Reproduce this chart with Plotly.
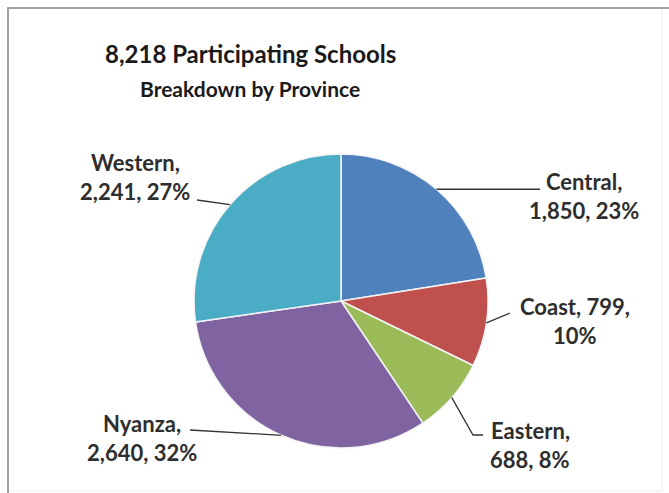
import math
import plotly.graph_objects as go

# Participating schools per province
provinces = ["Central", "Coast", "Eastern", "Nyanza", "Western"]
schools = [1850, 799, 688, 2640, 2241]
colors = ["#4F81BD", "#C0504D", "#9BBB59", "#8064A2", "#4BACC6"]

W, H = 669, 493
CX, CY, R = 341, 301, 147          # pie centre and radius in pixels

total = sum(schools)

def px(x, y):
    """pixel coords (top-left origin) -> paper coords"""
    return x / W, 1 - y / H

fig = go.Figure(go.Pie(
    labels=provinces,
    values=schools,
    sort=False,
    direction="clockwise",
    rotation=0,
    marker=dict(colors=colors, line=dict(color="#F4F4F4", width=1.5)),
    textinfo="none",
    hoverinfo="label+value+percent",
    domain=dict(x=[(CX - R) / W, (CX + R) / W],
                y=[(H - CY - R) / H, (H - CY + R) / H]),
    showlegend=False,
))

# label layout: text-block centre, leader bend points, where the line breaks
label_layout = {
    "Central": dict(center=(584, 196), path=[(540, None)], split="name"),
    "Coast":   dict(center=(575, 321), path=[(510, 313)], split="value"),
    "Eastern": dict(center=(530, 445), path=[(473, 435), (483, 435)], split="name"),
    "Nyanza":  dict(center=(142, 438), path=[(190, 430)], split="name"),
    "Western": dict(center=(135, 177), path=[(197, 200)], split="name"),
}
LINE_GAP = 29
label_font = dict(family="Lato", size=22, color="#2E2E2E")

shapes = []
annotations = []
cum = 0
for name, val in zip(provinces, schools):
    mid = (cum + val / 2) / total * 2 * math.pi
    cum += val
    ex = CX + R * math.sin(mid)
    ey = CY - R * math.cos(mid)
    cfg = label_layout[name]
    pts = [(ex, ey)] + [(x, ey if y is None else y) for x, y in cfg["path"]]
    d = "M " + " L ".join(f"{px(x, y)[0]:.5f},{px(x, y)[1]:.5f}" for x, y in pts)
    shapes.append(dict(type="path", path=d, xref="paper", yref="paper",
                       line=dict(color="#333333", width=1.3)))
    pct = round(val / total * 100)
    if cfg["split"] == "name":
        lines = [f"{name},", f"{val:,}, {pct}%"]
    else:
        lines = [f"{name}, {val:,},", f"{pct}%"]
    bx, by = cfg["center"]
    for i, t in enumerate(lines):
        ly = by + (i - 0.5) * LINE_GAP
        x, y = px(bx, ly)
        annotations.append(dict(text=f"<b>{t}</b>", x=x, y=y, xref="paper", yref="paper",
                                xanchor="center", yanchor="middle", showarrow=False,
                                font=label_font))

# chart titles
for text, yy, size in [("8,218 Participating Schools", 54, 24),
                       ("Breakdown by Province", 88, 21)]:
    x, y = px(250, yy)
    annotations.append(dict(text=f"<b>{text}</b>", x=x, y=y, xref="paper", yref="paper",
                            xanchor="center", yanchor="middle", showarrow=False,
                            font=dict(family="Lato", size=size, color="#1a1a1a")))

# chart frame
def seg(x0, y0, x1, y1, color, width):
    a, b = px(x0, y0)
    c, d = px(x1, y1)
    return dict(type="line", x0=a, y0=b, x1=c, y1=d, xref="paper", yref="paper",
                line=dict(color=color, width=width))

shapes += [
    seg(7, 8, 669, 8, "#A0A0A0", 2),
    seg(8, 7, 8, 493, "#A0A0A0", 2),
    seg(662, 9, 662, 491, "#EEEEEE", 1),
    seg(9, 491, 662, 491, "#EEEEEE", 1),
]

fig.update_layout(
    width=W, height=H,
    margin=dict(l=0, r=0, t=0, b=0),
    paper_bgcolor="white",
    plot_bgcolor="white",
    shapes=shapes,
    annotations=annotations,
)

fig.write_html("out.html")
